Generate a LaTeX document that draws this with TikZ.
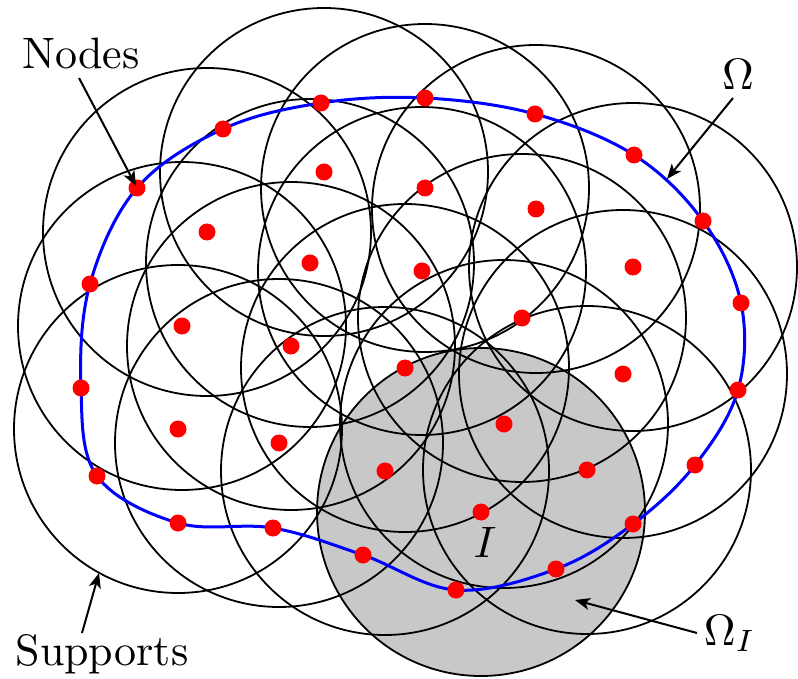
\documentclass[tikz,border=0pt]{standalone}
\usetikzlibrary{arrows.meta}
\definecolor{supgray}{RGB}{200,200,200}
\tikzset{
  support/.style={draw=black, line width=1.8pt},
  nodedot/.style={circle, fill=red, inner sep=0pt, minimum size=17pt},
  boundary/.style={draw=blue, line width=3pt},
  lbl/.style={font=\normalsize, scale=4.4, inner sep=0pt, anchor=base},
  pointer/.style={draw=black, line width=2pt, -{Stealth[length=15pt,width=12pt,inset=4pt]}}
}
\begin{document}
\begin{tikzpicture}[x=1pt,y=-1pt]
\useasboundingbox (0,0) rectangle (798,679);
% interior nodes (centres of supports)
\coordinate (i1) at (207,232);
\coordinate (i2) at (324,172);
\coordinate (i3) at (425,188);
\coordinate (i4) at (536,209);
\coordinate (i5) at (633,267);
\coordinate (i6) at (310,263);
\coordinate (i7) at (422,271);
\coordinate (i8) at (522,318);
\coordinate (i9) at (182,326);
\coordinate (i10) at (291,346);
\coordinate (i11) at (405,368);
\coordinate (i12) at (623,374);
\coordinate (i13) at (178,429);
\coordinate (i14) at (279,443);
\coordinate (i15) at (504,424);
\coordinate (i16) at (385,471);
\coordinate (i17) at (587,470);
\coordinate (i18) at (481,512);
% boundary nodes
\coordinate (b1) at (137,188);
\coordinate (b2) at (223,129);
\coordinate (b3) at (321,103);
\coordinate (b4) at (425,98);
\coordinate (b5) at (535,114);
\coordinate (b6) at (634,155);
\coordinate (b7) at (703,221);
\coordinate (b8) at (741,303);
\coordinate (b9) at (738,390);
\coordinate (b10) at (695,465);
\coordinate (b11) at (633,524);
\coordinate (b12) at (556,569);
\coordinate (b13) at (456,590);
\coordinate (b14) at (363,555);
\coordinate (b15) at (273,528);
\coordinate (b16) at (178,523);
\coordinate (b17) at (97,476);
\coordinate (b18) at (81,388);
\coordinate (b19) at (90,284);
% highlighted support
\fill[supgray] (i18) circle[radius=164pt];
% supports
\foreach \k in {1,...,18}{
  \draw[support] (i\k) circle[radius=164pt];
}
% boundary
\draw[boundary] plot[smooth cycle, tension=0.6] coordinates {(b1) (b2) (b3) (b4) (b5) (b6) (b7) (b8) (b9) (b10) (b11) (b12) (b13) (b14) (b15) (b16) (b17) (b18) (b19)};
% node dots
\foreach \k in {1,...,18}{ \node[nodedot] (di\k) at (i\k) {}; }
\foreach \k in {1,...,19}{ \node[nodedot] (db\k) at (b\k) {}; }
% labels
\node[lbl] (nodes) at (81,69) {Nodes};
\node[lbl] (supports) at (102,665) {Supports};
\node[lbl] (omega) at (738,90) {$\Omega$};
\node[lbl, anchor=base west] (omegaI) at (703,645) {$\Omega_I$};
\node[lbl] (ilabel) at (485,557) {$I$};
% pointer ends
\coordinate (tn) at (136,186);
\coordinate (to) at (667,179);
\coordinate (ts) at (99,573);
\coordinate (ti) at (575,600);
\coordinate (sn) at (79,78);
\coordinate (so) at (733,98);
\coordinate (ss) at (82,633);
\coordinate (si) at (697,633);
\draw[pointer] (sn) -- (tn);
\draw[pointer] (so) -- (to);
\draw[pointer] (ss) -- (ts);
\draw[pointer] (si) -- (ti);
\end{tikzpicture}
\end{document}
